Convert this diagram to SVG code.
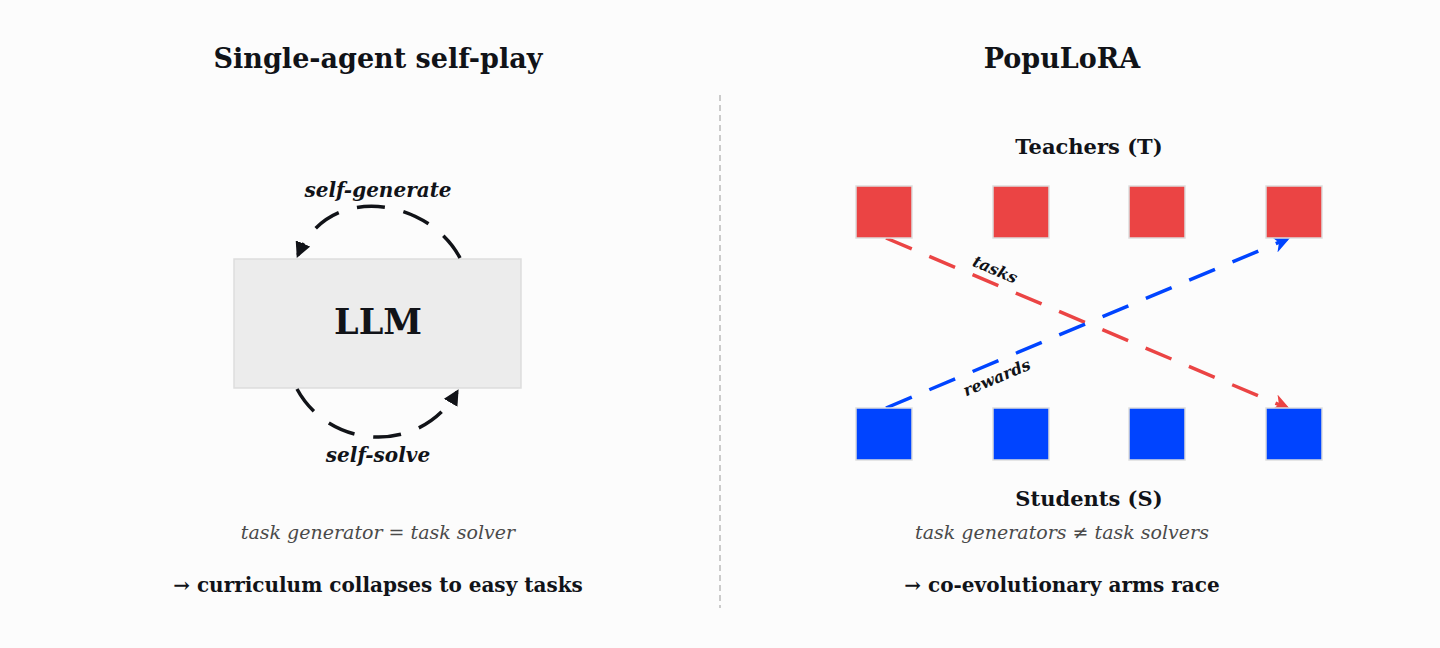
<svg xmlns="http://www.w3.org/2000/svg" width="1440" height="648" viewBox="0 0 1440 648">
<style>
text{font-family:"DejaVu Serif","Liberation Serif",serif;fill:#111318}
.t{font-size:27px;font-weight:bold}
.h{font-size:21px;font-weight:bold}
.lbl{font-size:20px;font-weight:bold;font-style:italic}
.sub{font-size:19px;font-style:italic;fill:#4a4a4a}
.b{font-size:20px;font-weight:bold}
.r{fill:#eb4444;stroke:#ddd;stroke-width:1.5}
.s{fill:#0044ff;stroke:#ddd;stroke-width:1.5}
</style>
<defs>
<marker id="ak" viewBox="0 0 10 10" refX="8" refY="5" markerWidth="4.5" markerHeight="4.5" orient="auto"><path d="M0,0L10,5L0,10z" fill="#111318"/></marker>
<marker id="ar" viewBox="0 0 10 10" refX="8" refY="5" markerWidth="5" markerHeight="5" orient="auto"><path d="M0,0L10,5L0,10L3,5z" fill="#eb4444"/></marker>
<marker id="ab" viewBox="0 0 10 10" refX="8" refY="5" markerWidth="5" markerHeight="5" orient="auto"><path d="M0,0L10,5L0,10L3,5z" fill="#0044ff"/></marker>
</defs>
<rect width="1440" height="648" fill="#fcfcfc"/>
<line x1="720" y1="95" x2="720" y2="608" stroke="#bbb" stroke-width="1.5" stroke-dasharray="6,4"/>
<text class="t" x="378" y="68" text-anchor="middle">Single-agent self-play</text>
<text class="t" x="1062" y="68" text-anchor="middle">PopuLoRA</text>
<g id="llm"><rect x="234" y="259" width="287" height="129" fill="#ececec" stroke="#ddd" stroke-width="1.5"/>
<text x="378" y="334" text-anchor="middle" style="font-size:35px;font-weight:bold">LLM</text></g>
<g id="connectors" fill="none" stroke-width="3.5" stroke-dasharray="28,19">
<path d="M460,258 C430,200 330,180 298,255" stroke="#111318" marker-end="url(#ak)"/>
<path d="M297,389 C330,450 420,455 457,392" stroke="#111318" marker-end="url(#ak)"/>
<line x1="886" y1="238" x2="1287" y2="408" stroke="#eb4444" marker-end="url(#ar)"/>
<line x1="886" y1="408" x2="1287" y2="239" stroke="#0044ff" marker-end="url(#ab)"/>
</g>
<text class="lbl" x="378" y="197" text-anchor="middle">self-generate</text>
<text class="lbl" x="378" y="462" text-anchor="middle">self-solve</text>
<text x="995" y="275" text-anchor="middle" transform="rotate(23 995 270)" style="font-size:16px;font-weight:bold;font-style:italic">tasks</text>
<text x="997" y="383" text-anchor="middle" transform="rotate(-23 997 378)" style="font-size:16px;font-weight:bold;font-style:italic">rewards</text>
<text class="h" x="1089" y="154" text-anchor="middle">Teachers (T)</text>
<g id="t1"><rect class="r" x="856" y="186" width="56" height="52"/></g>
<g id="t2"><rect class="r" x="993" y="186" width="56" height="52"/></g>
<g id="t3"><rect class="r" x="1129" y="186" width="56" height="52"/></g>
<g id="t4"><rect class="r" x="1266" y="186" width="56" height="52"/></g>
<g id="s1"><rect class="s" x="856" y="408" width="56" height="52"/></g>
<g id="s2"><rect class="s" x="993" y="408" width="56" height="52"/></g>
<g id="s3"><rect class="s" x="1129" y="408" width="56" height="52"/></g>
<g id="s4"><rect class="s" x="1266" y="408" width="56" height="52"/></g>
<text class="h" x="1089" y="506" text-anchor="middle">Students (S)</text>
<text class="sub" x="378" y="539" text-anchor="middle">task generator = task solver</text>
<text class="sub" x="1062" y="539" text-anchor="middle">task generators ≠ task solvers</text>
<text class="b" x="378" y="592" text-anchor="middle">→ curriculum collapses to easy tasks</text>
<text class="b" x="1062" y="592" text-anchor="middle">→ co-evolutionary arms race</text>
</svg>
